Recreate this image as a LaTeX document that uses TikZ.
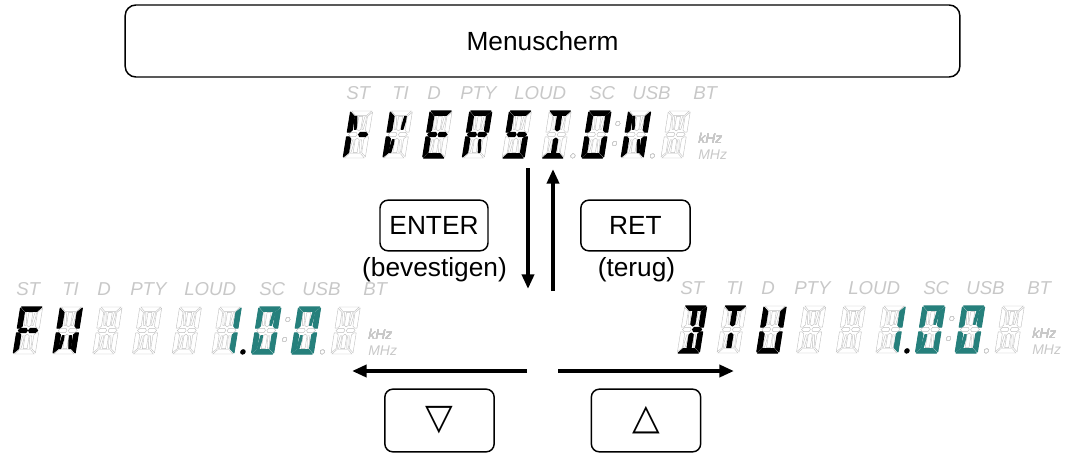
\documentclass[tikz,border=0pt]{standalone}
\usepackage{fontspec}
\setmainfont{Liberation Sans}
\newfontfamily\symfont{DejaVu Sans}
\usetikzlibrary{arrows.meta}

\definecolor{lcdteal}{RGB}{38,128,124}
\definecolor{lcdgray}{RGB}{190,190,190}
\definecolor{lcdtext}{RGB}{200,200,200}

% Segment shapes (digit centre at origin, y upwards)
\def\segA{(-10,23.5) -- (10,23.5) -- (5.8,19.2) -- (-5.8,19.2) -- cycle}
\def\segF{(-11,22.3) -- (-6.6,18.1) -- (-6.6,4.4) -- (-8.6,2.4) -- (-11,2.4) -- cycle}
\def\segG{(-9.6,0) -- (-7.4,2.1) -- (-2,2.1) -- (-0.7,0) -- (-2,-2.1) -- (-7.4,-2.1) -- cycle}
\def\segI{(0,3.6) -- (2,5.2) -- (2,18.1) -- (-2,18.1) -- (-2,5.2) -- cycle}
\def\segH{(-5.6,18) -- (-4.1,18) -- (-2.9,9.5) -- (-2.9,5.2) -- (-4.4,5.2) -- (-5.6,13.5) -- cycle}

% name, shape, xscale, yscale
\newcommand\defseg[4]{\expandafter\def\csname lcd#1\endcsname##1{\path[##1,xscale=#3,yscale=#4] #2;}}
\defseg{a}{\segA}{1}{1}
\defseg{d}{\segA}{1}{-1}
\defseg{f}{\segF}{1}{1}
\defseg{b}{\segF}{-1}{1}
\defseg{e}{\segF}{1}{-1}
\defseg{c}{\segF}{-1}{-1}
\defseg{gl}{\segG}{1}{1}
\defseg{gr}{\segG}{-1}{1}
\defseg{i}{\segI}{1}{1}
\defseg{l}{\segI}{1}{-1}
\defseg{h}{\segH}{1}{1}
\defseg{j}{\segH}{-1}{1}
\defseg{k}{\segH}{1}{-1}
\defseg{m}{\segH}{-1}{-1}

% position, segments, style
\newcommand\lcdchar[3]{%
  \begin{scope}[shift={(\lcdx+39.7*#1-24.7,\lcdy+23.5)},y=0.75pt,xslant=0.16]
    \foreach \s in {#2}{\csname lcd\s\endcsname{#3}}
  \end{scope}}

% dot after a digit: position, height, style
\newcommand\lcddot[3]{%
  \path[#3,shift={(\lcdx+39.7*#1-4.85,\lcdy+23.5)},y=0.75pt,xslant=0.16] (0,#2) circle (2.1);}

% empty display: name, left x, top y
\newcommand\lcdpanel[3]{%
  \def\lcdx{#2}\def\lcdy{#3}
  \foreach \t/\dx in {ST/3,TI/49,D/84,PTY/117,LOUD/171,SC/246,USB/289,BT/350}
    \node[indic,anchor=west] (#1-\t) at (\lcdx+\dx,\lcdy-17.5) {\t};
  \foreach \n in {1,...,9}
    \lcdchar{\n}{a,b,c,d,e,f,gl,gr,h,i,j,k,l,m}{segoff}
  \lcddot{6}{-21.4}{segoff}
  \lcddot{7}{11}{segoff}
  \lcddot{7}{-9}{segoff}
  \lcddot{8}{-21.4}{segoff}
  \node[unittext,anchor=base west] (#1-khz) at (\lcdx+355,\lcdy+32.2) {kHz};
  \node[unittext,anchor=base west] (#1-mhz) at (\lcdx+355,\lcdy+48) {MHz};}

\tikzset{
  segoff/.style={draw=lcdgray,line width=0.3pt,fill=white},
  segon/.style={draw=#1,fill=#1,line width=0.9pt,line join=round},
  indic/.style={text=lcdtext,inner sep=0pt,font=\fontsize{14}{14}\selectfont\itshape},
  unittext/.style={text=lcdtext,inner sep=0pt,font=\fontsize{10.5}{10.5}\selectfont\itshape},
  keybox/.style={draw,line width=1.1pt,rounded corners=6pt,font=\fontsize{19.7}{22}\selectfont},
  hint/.style={inner sep=0pt,font=\fontsize{19.7}{22}\selectfont},
  bigarrow/.style={line width=3.2pt,-{Triangle[length=11pt,width=9pt]}},
}

\begin{document}
\begin{tikzpicture}[x=0.75pt,y=-0.75pt]
  \useasboundingbox (0,0) rectangle (1066,454);

  % Menu
  \node[keybox,rounded corners=8pt,minimum width=626pt,minimum height=54pt] (menu) at (542.5,41) {Menuscherm};

  % VERSION
  \lcdpanel{top}{343}{111}
  \lcdchar{1}{f,h,gr,e}{segon=black}
  \lcdchar{2}{f,e,k,j}{segon=black}
  \lcdchar{3}{a,f,gl,gr,e,d}{segon=black}
  \lcdchar{4}{a,f,b,gl,gr,e,m}{segon=black}
  \lcdchar{5}{a,f,gl,gr,c,d}{segon=black}
  \lcdchar{6}{a,i,l,d}{segon=black}
  \lcdchar{7}{a,b,c,d,e,f}{segon=black}
  \lcdchar{8}{f,e,h,m,b,c}{segon=black}

  % FW 1.00
  \lcdpanel{fw}{13}{307}
  \lcdchar{1}{a,f,gl,gr,e}{segon=black}
  \lcdchar{2}{f,b,e,k,m,c}{segon=black}
  \lcdchar{6}{b,c}{segon=lcdteal}
  \lcdchar{7}{a,b,c,d,e,f,j,k}{segon=lcdteal}
  \lcdchar{8}{a,b,c,d,e,f,j,k}{segon=lcdteal}
  \lcddot{6}{-21.4}{segon=black}

  % BTU 1.00
  \lcdpanel{bt}{677}{306}
  \lcdchar{1}{a,b,c,d,i,l,gr}{segon=black}
  \lcdchar{2}{a,i,l}{segon=black}
  \lcdchar{3}{f,e,d,b,c}{segon=black}
  \lcdchar{6}{b,c}{segon=lcdteal}
  \lcdchar{7}{a,b,c,d,e,f,j,k}{segon=lcdteal}
  \lcdchar{8}{a,b,c,d,e,f,j,k}{segon=lcdteal}
  \lcddot{6}{-21.4}{segon=black}

  % Keys
  \node[keybox,minimum width=81pt,minimum height=38pt] (enter) at (434,225.5) {ENTER};
  \node[hint] (enterhint) at (434.5,269.5) {(bevestigen)};
  \node[keybox,minimum width=82pt,minimum height=38pt] (ret) at (635.5,225.5) {RET};
  \node[hint] (rethint) at (636.5,269.5) {(terug)};
  \node[keybox,minimum width=82pt,minimum height=47pt,font=\symfont\fontsize{27}{27}\selectfont] (down) at (439.5,420.5) {▽};
  \node[keybox,minimum width=82pt,minimum height=47pt,font=\symfont\fontsize{27}{27}\selectfont] (up) at (646,420.5) {△};

  % Arrows
  \coordinate (dntop) at (528,168);
  \coordinate (dnbot) at (528,289);
  \coordinate (upbot) at (553,291);
  \coordinate (uptop) at (553,169);
  \coordinate (lfrom) at (527,371);
  \coordinate (lto) at (352,371);
  \coordinate (rfrom) at (558,371);
  \coordinate (rto) at (734,371);
  \draw[bigarrow] (dntop) -- (dnbot);
  \draw[bigarrow] (upbot) -- (uptop);
  \draw[bigarrow] (lfrom) -- (lto);
  \draw[bigarrow] (rfrom) -- (rto);
\end{tikzpicture}
\end{document}
